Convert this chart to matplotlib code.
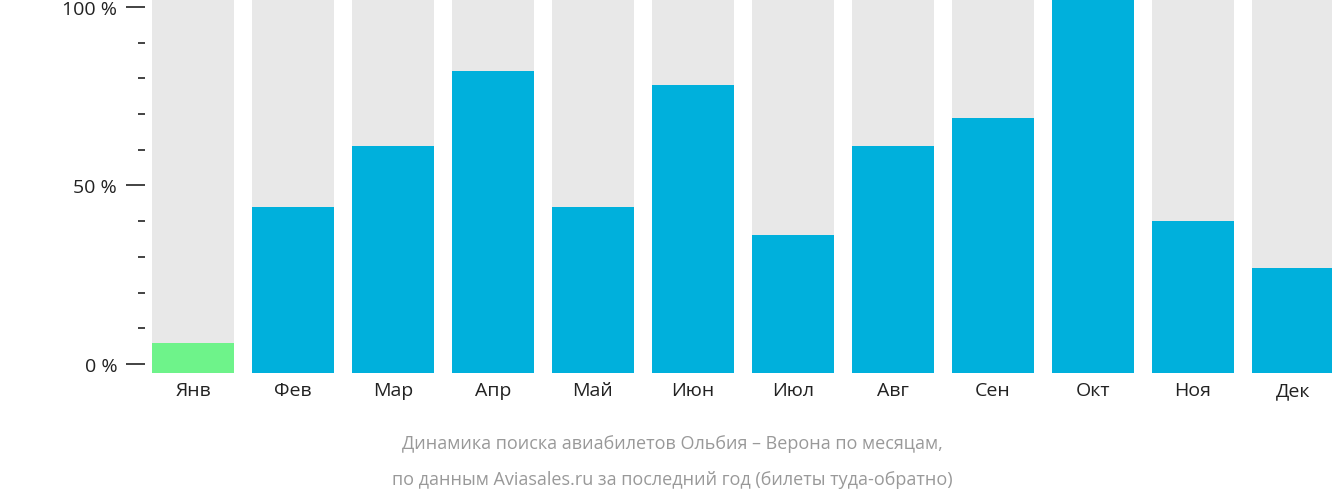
import matplotlib
matplotlib.use("Agg")
import matplotlib.pyplot as plt
from matplotlib.ticker import MultipleLocator

months = ["Янв","Фев","Мар","Апр","Май","Июн","Июл","Авг","Сен","Окт","Ноя","Дек"]
values = [6, 44, 61, 82, 44, 78, 36, 61, 69, 102, 40, 27]
colors = ["#6ef38a"] + ["#00b0dc"] * 11

fig = plt.figure(figsize=(13.32, 5.02), dpi=100)
ax = fig.add_axes([145/1332, 1-374/502, (1332-145)/1332, 374/502])
ymin, ymax = -2.5, 102.2
x = list(range(len(months)))
ax.bar(x, [ymax - ymin]*12, bottom=ymin, width=0.82, color="#e8e8e8")
ax.bar(x, [v - ymin for v in values], bottom=ymin, width=0.82, color=colors)
ax.set_xlim(-0.48, 11.39)
ax.set_ylim(ymin, ymax)
for s in ax.spines.values():
    s.set_visible(False)
ax.set_yticks([0, 50, 100])
ax.set_yticklabels(["0 %", "50 %", "100 %"], fontsize=14, fontfamily="Open Sans", color="#222222")
ax.yaxis.set_minor_locator(MultipleLocator(10))
ax.tick_params(axis="y", which="major", length=14, width=1.2, color="#222222", pad=6)
ax.tick_params(axis="y", which="minor", length=5, width=1.2, color="#222222")
ax.set_xticks(x)
ax.set_xticklabels(months, fontsize=14, fontfamily="Open Sans", color="#222222")
ax.tick_params(axis="x", length=0, pad=6)
fig.text((145+1332)/2/1332 - 0.05, 1-444/502, "Динамика поиска авиабилетов Ольбия – Верона по месяцам,",
         ha="center", va="center", fontsize=13, fontfamily="Open Sans", color="#999999")
fig.text((145+1332)/2/1332 - 0.05, 1-480/502, "по данным Aviasales.ru за последний год (билеты туда-обратно)",
         ha="center", va="center", fontsize=13, fontfamily="Open Sans", color="#999999")
fig.savefig("out.png", dpi=100)
